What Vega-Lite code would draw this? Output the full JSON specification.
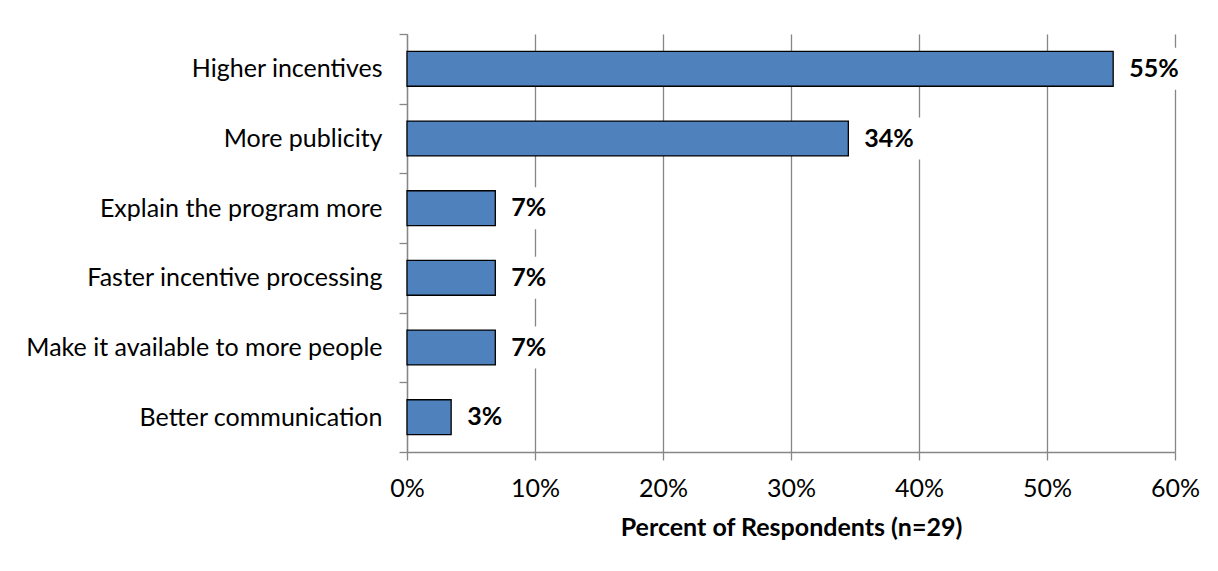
{
  "$schema": "https://vega.github.io/schema/vega-lite/v6.json",
  "autosize": {"type": "none"},
  "width": 768,
  "height": 418,
  "padding": {"left": 407, "top": 34, "right": 43, "bottom": 119},
  "background": "white",
  "config": {
    "font": "Lato",
    "view": {"stroke": null},
    "axis": {"labelFont": "Lato", "titleFont": "Lato", "labelColor": "#000000", "titleColor": "#000000"}
  },
  "data": {
    "values": [
      {"category": "Higher incentives", "share": 0.5517},
      {"category": "More publicity", "share": 0.3448},
      {"category": "Explain the program more", "share": 0.069},
      {"category": "Faster incentive processing", "share": 0.069},
      {"category": "Make it available to more people", "share": 0.069},
      {"category": "Better communication", "share": 0.0345}
    ]
  },
  "encoding": {
    "y": {
      "field": "category",
      "type": "nominal",
      "sort": null,
      "scale": {"paddingInner": 0, "paddingOuter": 0},
      "axis": {
        "title": null,
        "domainColor": "#868686",
        "domainWidth": 1.3,
        "tickColor": "#868686",
        "tickWidth": 1.3,
        "tickSize": 8,
        "tickBand": "extent",
        "labelFontSize": 25,
        "labelPadding": 17,
        "labelLimit": 600,
        "grid": false
      }
    },
    "x": {
      "field": "share",
      "type": "quantitative",
      "scale": {"domain": [0, 0.6], "nice": false},
      "axis": {
        "title": "Percent of Respondents (n=29)",
        "format": ".0%",
        "values": [0, 0.1, 0.2, 0.3, 0.4, 0.5, 0.6],
        "grid": true,
        "gridColor": "#868686",
        "gridWidth": 1.3,
        "domainColor": "#868686",
        "domainWidth": 1.3,
        "tickColor": "#868686",
        "tickWidth": 1.3,
        "tickSize": 8,
        "labelFontSize": 25,
        "labelPadding": 16,
        "labelFlush": false,
        "labelOverlap": false,
        "titleFontSize": 25,
        "titleFontWeight": "bold",
        "titleBaseline": "alphabetic",
        "titleY": 83
      }
    }
  },
  "layer": [
    {
      "mark": {"type": "bar", "color": "#4F81BD", "stroke": "#000000", "strokeWidth": 1.3, "height": {"band": 0.5}}
    },
    {
      "mark": {
        "type": "point",
        "shape": "M0.4,-1H3.7V1H0.4Z",
        "size": 1764,
        "filled": true,
        "color": "#FFFFFF",
        "opacity": 1,
        "strokeWidth": 0
      }
    },
    {
      "mark": {
        "type": "text",
        "align": "left",
        "baseline": "middle",
        "dx": 16,
        "fontSize": 25,
        "fontWeight": "bold",
        "color": "#000000"
      },
      "encoding": {
        "text": {"field": "share", "type": "quantitative", "format": ".0%"}
      }
    }
  ]
}
